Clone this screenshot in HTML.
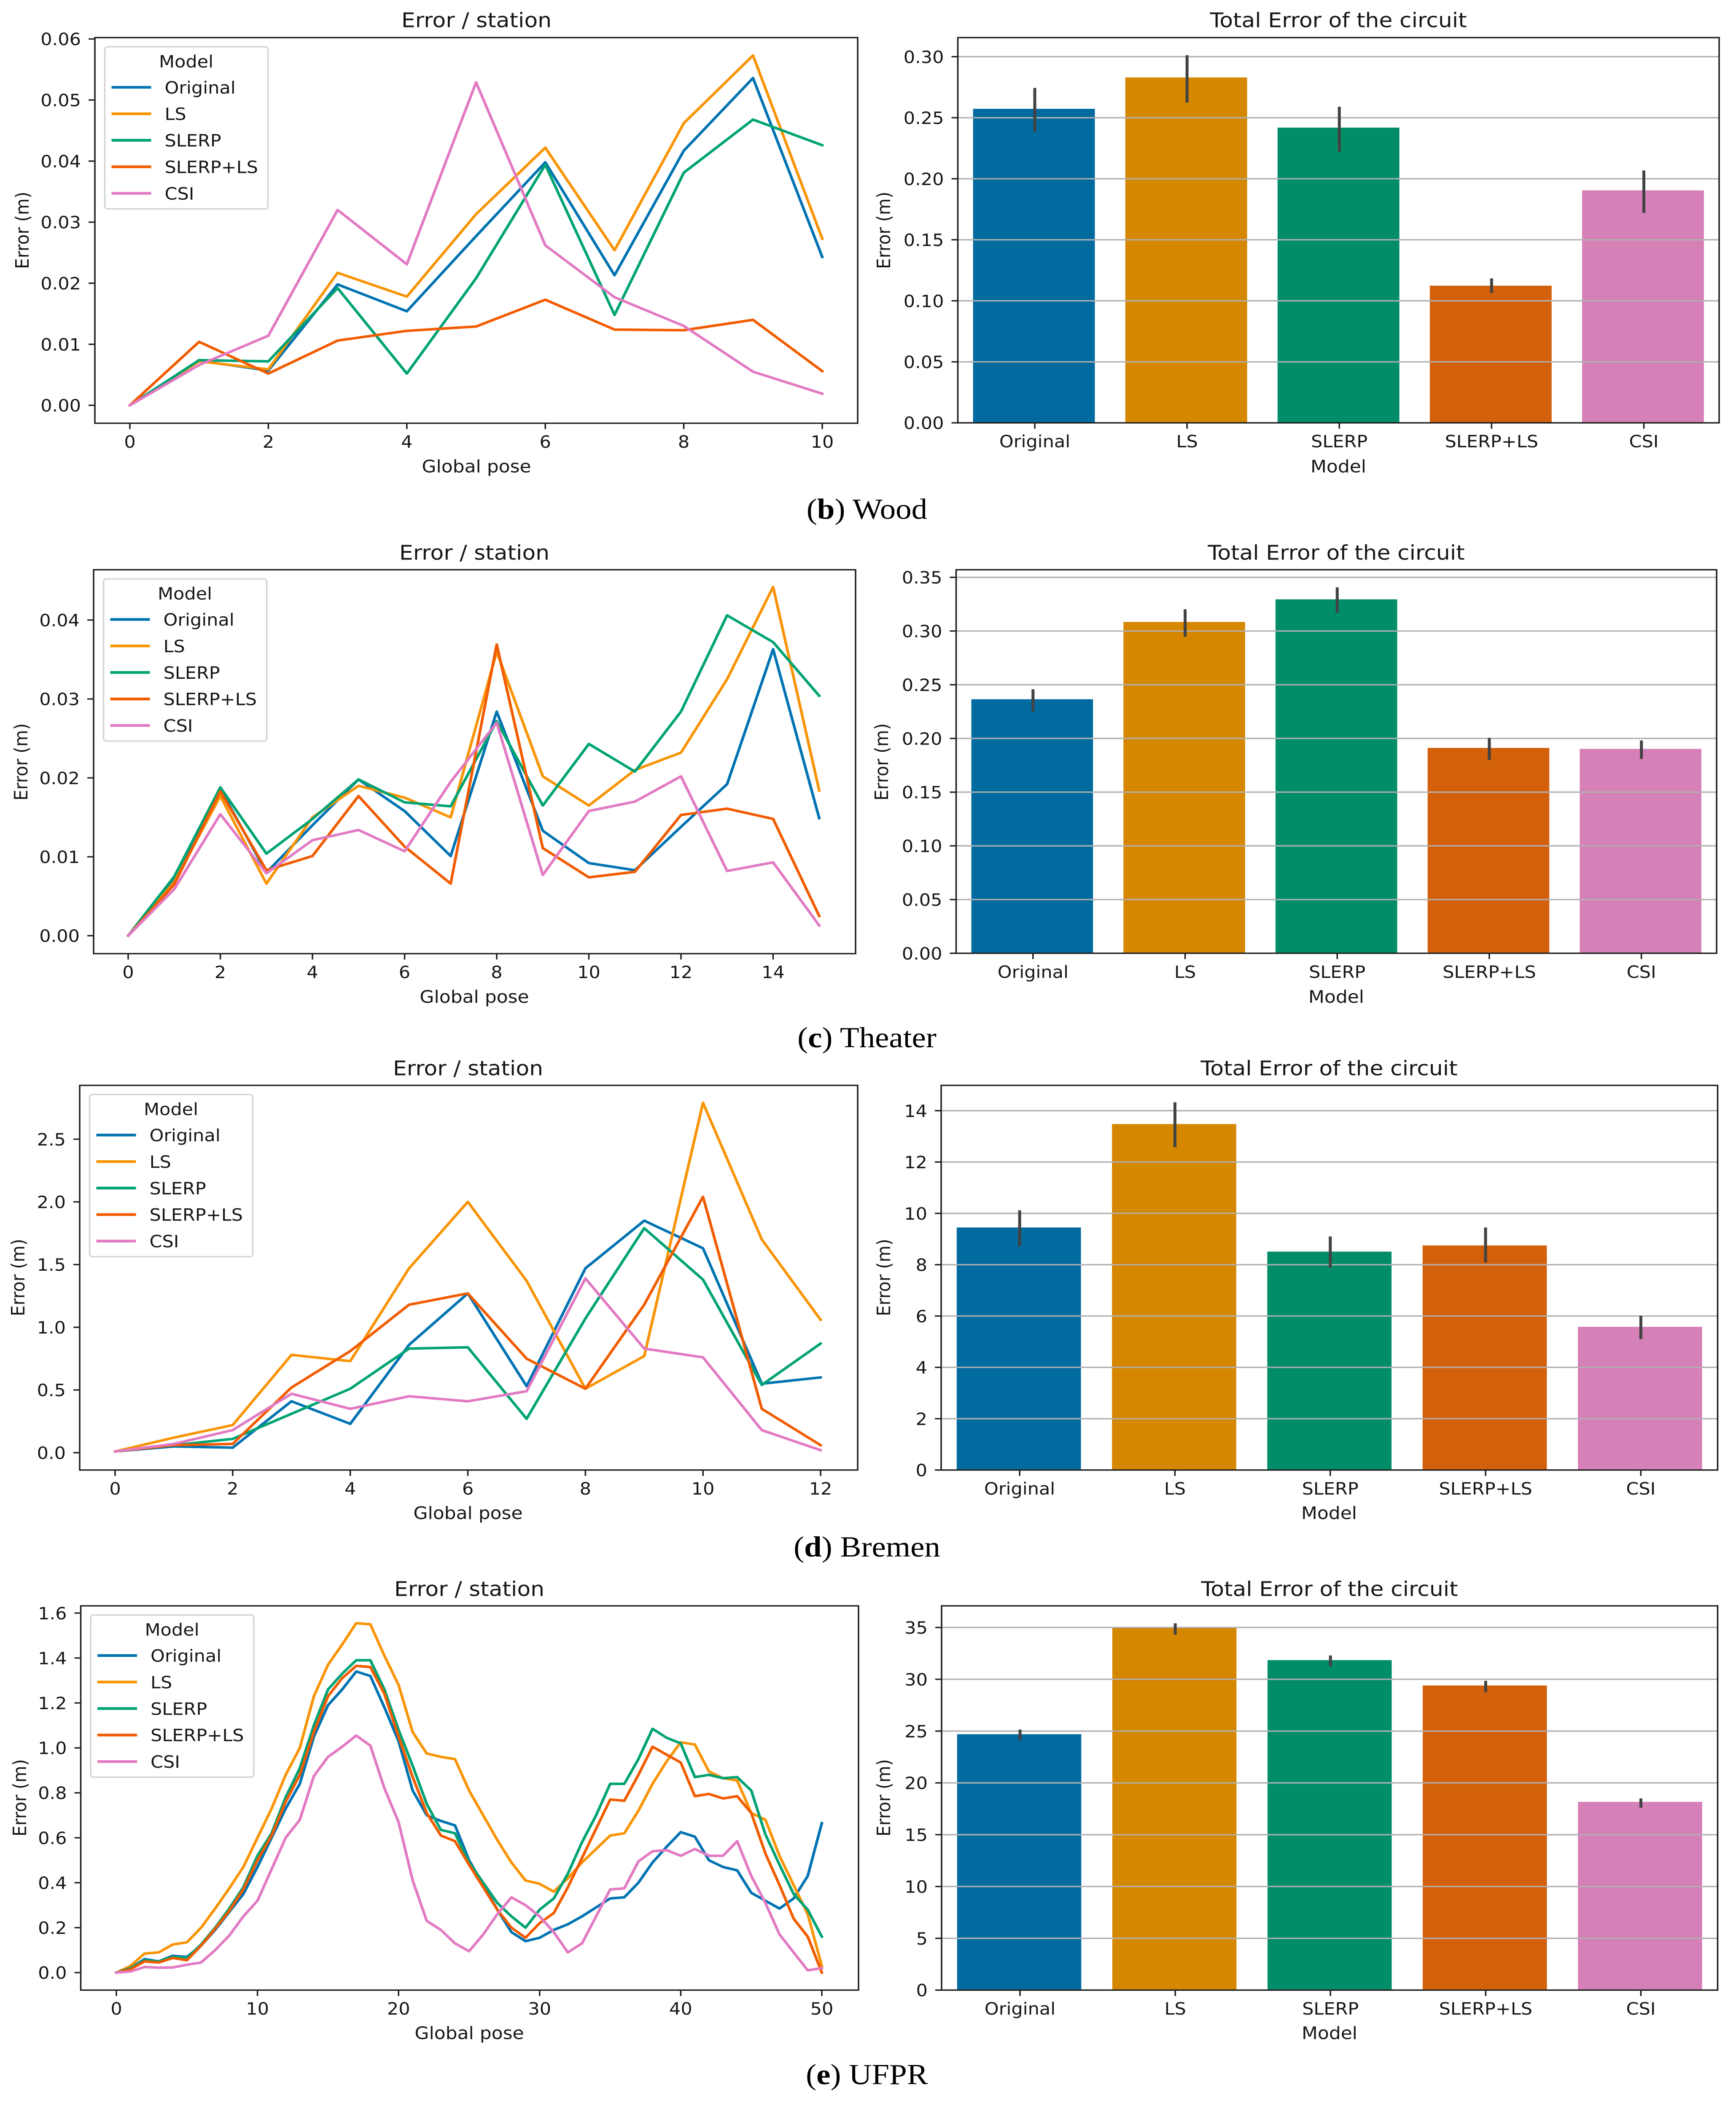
<!DOCTYPE html>
<html lang="en">
<head>
<meta charset="utf-8">
<title>Error per station and total circuit error</title>
<style>
html,body{margin:0;padding:0;background:#fff;width:100%;height:100%;overflow:hidden;}
svg{display:block;width:100vw;height:100vh;}
text{font-family:"DejaVu Sans","Liberation Sans",sans-serif;fill:#161616;}
.title{font-size:52px;text-anchor:middle;}
.axis-label{font-size:44px;text-anchor:middle;}
.caption{font-family:"Liberation Serif",serif;font-size:75px;text-anchor:middle;fill:#000;}
.caption tspan{font-weight:bold;}
</style>
</head>
<body>
<svg id="figure" xmlns="http://www.w3.org/2000/svg" viewBox="0 0 4117 5409" preserveAspectRatio="none">
  <rect width="4117" height="5409" fill="#fff"/>
  <g id="panels"></g>

  <text class="title" x="1130" y="70">Error / station</text>
  <text class="title" x="3174" y="70">Total Error of the circuit</text>
  <text class="axis-label" x="1130" y="1212">Global pose</text>
  <text class="axis-label" x="3174" y="1212">Model</text>
  <text class="axis-label" transform="translate(68,591) rotate(-90)">Error (m)</text>
  <text class="axis-label" transform="translate(2111,591) rotate(-90)">Error (m)</text>
  <text class="caption" x="2056" y="1331">(<tspan>b</tspan>) Wood</text>

  <text class="title" x="1125" y="1436">Error / station</text>
  <text class="title" x="3169" y="1436">Total Error of the circuit</text>
  <text class="axis-label" x="1125" y="2573">Global pose</text>
  <text class="axis-label" x="3169" y="2573">Model</text>
  <text class="axis-label" transform="translate(65,1955) rotate(-90)">Error (m)</text>
  <text class="axis-label" transform="translate(2106,1955) rotate(-90)">Error (m)</text>
  <text class="caption" x="2056" y="2687">(<tspan>c</tspan>) Theater</text>

  <text class="title" x="1110" y="2759">Error / station</text>
  <text class="title" x="3152" y="2759">Total Error of the circuit</text>
  <text class="axis-label" x="1110" y="3898">Global pose</text>
  <text class="axis-label" x="3152" y="3898">Model</text>
  <text class="axis-label" transform="translate(58,3278) rotate(-90)">Error (m)</text>
  <text class="axis-label" transform="translate(2111,3278) rotate(-90)">Error (m)</text>
  <text class="caption" x="2056" y="3994">(<tspan>d</tspan>) Bremen</text>

  <text class="title" x="1113" y="4095">Error / station</text>
  <text class="title" x="3153" y="4095">Total Error of the circuit</text>
  <text class="axis-label" x="1113" y="5232">Global pose</text>
  <text class="axis-label" x="3153" y="5232">Model</text>
  <text class="axis-label" transform="translate(62,4613) rotate(-90)">Error (m)</text>
  <text class="axis-label" transform="translate(2111,4613) rotate(-90)">Error (m)</text>
  <text class="caption" x="2056" y="5348">(<tspan>e</tspan>) UFPR</text>
</svg>
<script>
// ---- shared categories ----
const models = ["Original", "LS", "SLERP", "SLERP+LS", "CSI"];

// ---- Wood ----
const woodOriginal = [0, .0073, .0057, .0198, .0154, .0277, .0398, .0213, .0417, .0536, .0243];
const woodLS = [0, .0072, .0059, .0217, .0178, .0313, .0422, .0254, .0462, .0573, .0273];
const woodSlerp = [0, .0074, .0072, .0192, .0052, .0208, .0394, .0148, .0381, .0468, .0426];
const woodSlerpLS = [0, .0104, .0052, .0106, .0122, .0129, .0173, .0124, .0123, .0140, .0056];
const woodCSI = [0, .0066, .0114, .0320, .0231, .0529, .0262, .0177, .0130, .0055, .0019];
const woodXTicks = [0, 2, 4, 6, 8, 10];
const woodYTicks = ["0.00", "0.01", "0.02", "0.03", "0.04", "0.05", "0.06"];
const woodTotals = [.2573, .283, .2419, .1124, .1905];
const woodErrLow = [.2387, .2624, .2222, .1064, .172];
const woodErrHigh = [.2744, .3012, .259, .1184, .2068];
const woodBarTicks = ["0.00", "0.05", "0.10", "0.15", "0.20", "0.25", "0.30"];

// ---- Theater ----
const theaterOriginal = [0, .0072, .0186, .0080, .0140, .0198, .0158, .0101, .0284, .0133, .0092, .0083, .0138, .0192, .0363, .0149];
const theaterLS = [0, .0068, .0177, .0066, .0150, .0190, .0175, .0150, .0360, .0202, .0165, .0210, .0232, .0325, .0442, .0184];
const theaterSlerp = [0, .0075, .0188, .0104, .0148, .0198, .0169, .0164, .0272, .0165, .0243, .0208, .0284, .0406, .0372, .0304];
const theaterSlerpLS = [0, .0065, .0183, .0083, .0101, .0177, .0113, .0066, .0369, .0111, .0074, .0081, .0153, .0161, .0148, .0025];
const theaterCSI = [0, .0059, .0154, .0079, .0121, .0134, .0107, .0195, .0270, .0077, .0158, .0170, .0202, .0082, .0093, .0013];
const theaterXTicks = [0, 2, 4, 6, 8, 10, 12, 14];
const theaterYTicks = ["0.00", "0.01", "0.02", "0.03", "0.04"];
const theaterTotals = [.2365, .3085, .3295, .1912, .1903];
const theaterErrLow = [.225, .2948, .3171, .1801, .181];
const theaterErrHigh = [.2458, .3202, .3407, .2006, .1981];
const theaterBarTicks = ["0.00", "0.05", "0.10", "0.15", "0.20", "0.25", "0.30", "0.35"];

// ---- Bremen ----
const bremenOriginal = [.01, .05, .04, .41, .23, .86, 1.27, .53, 1.47, 1.85, 1.63, .55, .60];
const bremenLS = [.01, .12, .22, .78, .73, 1.47, 2.0, 1.37, .51, .77, 2.79, 1.70, 1.06];
const bremenSlerp = [.01, .06, .11, .31, .51, .83, .84, .27, 1.07, 1.79, 1.38, .54, .87];
const bremenSlerpLS = [.01, .06, .07, .52, .81, 1.18, 1.27, .75, .51, 1.18, 2.04, .35, .06];
const bremenCSI = [.01, .07, .18, .47, .35, .45, .41, .49, 1.39, .83, .76, .18, .02];
const bremenXTicks = [0, 2, 4, 6, 8, 10, 12];
const bremenYTicks = ["0.0", "0.5", "1.0", "1.5", "2.0", "2.5"];
const bremenTotals = [9.45, 13.48, 8.51, 8.75, 5.58];
const bremenErrLow = [8.71, 12.58, 7.88, 8.09, 5.1];
const bremenErrHigh = [10.12, 14.33, 9.1, 9.45, 6.01];
const bremenBarTicks = ["0", "2", "4", "6", "8", "10", "12", "14"];

// ---- UFPR ----
const ufprOriginal = [0, .02, .06, .05, .075, .07, .12, .19, .27, .35, .47, .60, .73, .84, 1.05, 1.19, 1.26, 1.34, 1.32, 1.18, 1.03, .81, .70, .675, .655, .50, .39, .28, .18, .14, .155, .19, .215, .25, .29, .33, .335, .40, .49, .56, .625, .605, .50, .47, .455, .355, .32, .285, .33, .43, .665];
const ufprLS = [0, .03, .085, .09, .125, .135, .20, .285, .375, .47, .60, .73, .88, 1.0, 1.23, 1.37, 1.46, 1.555, 1.55, 1.41, 1.28, 1.07, .975, .96, .95, .81, .70, .59, .49, .41, .395, .36, .42, .49, .55, .61, .62, .72, .84, .94, 1.025, 1.015, .895, .865, .855, .71, .68, .52, .39, .26, .03];
const ufprSlerp = [0, .02, .055, .05, .07, .065, .125, .20, .285, .38, .52, .62, .78, .91, 1.10, 1.26, 1.33, 1.39, 1.39, 1.26, 1.08, .92, .75, .635, .62, .49, .40, .31, .25, .20, .28, .33, .44, .58, .70, .84, .84, .95, 1.085, 1.045, 1.02, .87, .88, .865, .87, .81, .615, .48, .35, .28, .16];
const ufprSlerpLS = [0, .015, .05, .045, .065, .055, .12, .195, .275, .37, .50, .61, .76, .88, 1.07, 1.23, 1.31, 1.365, 1.36, 1.24, 1.05, .87, .71, .61, .585, .48, .38, .28, .20, .155, .22, .265, .38, .51, .64, .77, .765, .88, 1.005, .97, .935, .785, .795, .775, .785, .71, .53, .39, .24, .16, 0];
const ufprCSI = [0, .005, .025, .022, .023, .035, .045, .10, .165, .25, .32, .46, .60, .68, .875, .96, 1.005, 1.055, 1.01, .82, .67, .41, .23, .19, .13, .095, .17, .26, .335, .30, .25, .18, .09, .13, .25, .37, .375, .495, .54, .545, .52, .55, .52, .52, .585, .43, .31, .17, .09, .01, .02];
const ufprXTicks = [0, 10, 20, 30, 40, 50];
const ufprYTicks = ["0.0", "0.2", "0.4", "0.6", "0.8", "1.0", "1.2", "1.4", "1.6"];
const ufprTotals = [24.7, 34.97, 31.85, 29.4, 18.17];
const ufprErrLow = [24.1, 34.3, 31.25, 28.75, 17.6];
const ufprErrHigh = [25.15, 35.4, 32.3, 29.85, 18.5];
const ufprBarTicks = ["0", "5", "10", "15", "20", "25", "30", "35"];

// ---- styling / layout (not data) ----
const lineColors = ["#0073b2", "#f99406", "#00a374", "#f25c00", "#e27ac3"];
const barColors = ["#016ba0", "#d58700", "#018d68", "#d3600a", "#d680b8"];
const NS = "http://www.w3.org/2000/svg";
const root = document.getElementById("panels");

function make(parent, tag, attrs, content) {
  const el = document.createElementNS(NS, tag);
  for (const k in attrs) el.setAttribute(k, attrs[k]);
  if (content !== undefined) el.textContent = content;
  parent.appendChild(el);
  return el;
}

function linearScale(v0, v1, p0, p1) {
  return function (v) { return p0 + (v - v0) * (p1 - p0) / (v1 - v0); };
}

function drawFrame(group, box, prefix) {
  const frame = make(group, "rect", {x: box.left, y: box.top, width: box.right - box.left, height: box.bottom - box.top, fill: "none", stroke: "#1c1c1c", "stroke-width": 3.5});
  
  
}

function drawYTicks(group, box, labels, y, prefix) {
  labels.forEach(function (label) {
    const py = y(parseFloat(label));
    const tick = make(group, "line", {x1: box.left - 15, x2: box.left, y1: py, y2: py, stroke: "#1c1c1c", "stroke-width": 3.5});
    
    
    const text = make(group, "text", {x: box.left - 33, y: py + 16, "text-anchor": "end", "font-size": 43}, label);
    
    
  });
}

function drawXTick(group, box, px, label, prefix) {
  const tick = make(group, "line", {x1: px, x2: px, y1: box.bottom, y2: box.bottom + 15, stroke: "#1c1c1c", "stroke-width": 3.5});
  
  
  const text = make(group, "text", {x: px, y: box.bottom + 63, "text-anchor": "middle", "font-size": 43}, label);
  
  
}

function drawLegend(group, box, prefix) {
  const lx = box.left + 23.5, ly = box.top + 23.5;
  const legend = make(group, "g", {});
  
  
  const bg = make(legend, "rect", {x: lx, y: ly, width: 387, height: 416, rx: 7, fill: "#fff", "fill-opacity": 0.8, stroke: "#d4d4d4", "stroke-width": 3.5});
  
  
  const title = make(legend, "text", {x: lx + 193, y: ly + 53, "text-anchor": "middle", "font-size": 43}, "Model");
  
  
  models.forEach(function (model, i) {
    const row = ly + 104 + i * 68;
    const swatch = make(legend, "line", {x1: lx + 16, x2: lx + 110, y1: row, y2: row, stroke: lineColors[i], "stroke-width": 7});
    
    
    const label = make(legend, "text", {x: lx + 142, y: row + 16, "font-size": 43}, model);
    
    
  });
}

function drawLinePanel(p) {
  const group = make(root, "g", {});
  
  
  const x = linearScale(p.xv[0], p.xv[1], p.xp[0], p.xp[1]);
  const y = linearScale(p.yv[0], p.yv[1], p.yp[0], p.yp[1]);
  p.series.forEach(function (values, s) {
    const pts = values.map(function (v, i) { return x(i).toFixed(1) + "," + y(v).toFixed(1); }).join(" ");
    const line = make(group, "polyline", {points: pts, fill: "none", stroke: lineColors[s], "stroke-width": 6.5, "stroke-linejoin": "round", "stroke-linecap": "square"});
    
    
  });
  drawFrame(group, p.box, p.prefix + "-line");
  drawYTicks(group, p.box, p.yTicks, y, p.prefix + "-line");
  p.xTicks.forEach(function (t) { drawXTick(group, p.box, x(t), String(t), p.prefix + "-line"); });
  drawLegend(group, p.box, p.prefix);
}

function drawBarPanel(p) {
  const group = make(root, "g", {});
  
  
  const y = linearScale(p.yv[0], p.yv[1], p.yp[0], p.yp[1]);
  const band = (p.box.right - p.box.left) / models.length;
  const center = function (i) { return p.box.left + band * (i + 0.5); };
  p.totals.forEach(function (v, i) {
    const bar = make(group, "rect", {x: center(i) - band * 0.4, y: y(v), width: band * 0.8, height: y(0) - y(v), fill: barColors[i]});
    
    
  });
  p.yTicks.forEach(function (label) {
    const py = y(parseFloat(label));
    const grid = make(group, "line", {x1: p.box.left, x2: p.box.right, y1: py, y2: py, stroke: "#b0b0b0", "stroke-width": 3.5});
    
    
  });
  models.forEach(function (m, i) {
    const err = make(group, "line", {x1: center(i) + 2, x2: center(i) + 2, y1: y(p.errLow[i]), y2: y(p.errHigh[i]), stroke: "#424242", "stroke-width": 7});
    
    
  });
  drawFrame(group, p.box, p.prefix + "-bar");
  drawYTicks(group, p.box, p.yTicks, y, p.prefix + "-bar");
  models.forEach(function (m, i) { drawXTick(group, p.box, center(i) + 2, m, p.prefix + "-bar"); });
}

drawLinePanel({prefix: "wood", box: {left: 225, right: 2034, top: 96.5, bottom: 1086},
  xv: [0, 10], xp: [308, 1950], yv: [0, .06], yp: [1040, 100], xTicks: woodXTicks, yTicks: woodYTicks,
  series: [woodOriginal, woodLS, woodSlerp, woodSlerpLS, woodCSI]});
drawBarPanel({prefix: "wood", box: {left: 2271.5, right: 4077, top: 96.5, bottom: 1085},
  yv: [0, .30], yp: [1085, 145.5], yTicks: woodBarTicks, totals: woodTotals, errLow: woodErrLow, errHigh: woodErrHigh});

drawLinePanel({prefix: "theater", box: {left: 222, right: 2029, top: 1462, bottom: 2447},
  xv: [0, 14], xp: [304, 1833.5], yv: [0, .04], yp: [2401, 1591], xTicks: theaterXTicks, yTicks: theaterYTicks,
  series: [theaterOriginal, theaterLS, theaterSlerp, theaterSlerpLS, theaterCSI]});
drawBarPanel({prefix: "theater", box: {left: 2267.5, right: 4071, top: 1462, bottom: 2446},
  yv: [0, .35], yp: [2446, 1481.4], yTicks: theaterBarTicks, totals: theaterTotals, errLow: theaterErrLow, errHigh: theaterErrHigh});

drawLinePanel({prefix: "bremen", box: {left: 189, right: 2034, top: 2785, bottom: 3772},
  xv: [0, 12], xp: [273, 1946], yv: [0, 2.5], yp: [3727.5, 2923], xTicks: bremenXTicks, yTicks: bremenYTicks,
  series: [bremenOriginal, bremenLS, bremenSlerp, bremenSlerpLS, bremenCSI]});
drawBarPanel({prefix: "bremen", box: {left: 2232, right: 4073.5, top: 2785, bottom: 3772},
  yv: [0, 14], yp: [3772, 2850], yTicks: bremenBarTicks, totals: bremenTotals, errLow: bremenErrLow, errHigh: bremenErrHigh});

drawLinePanel({prefix: "ufpr", box: {left: 191.5, right: 2036, top: 4120.5, bottom: 5106.5},
  xv: [0, 50], xp: [276, 1949], yv: [0, 1.6], yp: [5061.6, 4139], xTicks: ufprXTicks, yTicks: ufprYTicks,
  series: [ufprOriginal, ufprLS, ufprSlerp, ufprSlerpLS, ufprCSI]});
drawBarPanel({prefix: "ufpr", box: {left: 2233, right: 4073.5, top: 4120.5, bottom: 5106.5},
  yv: [0, 35], yp: [5106.5, 4176], yTicks: ufprBarTicks, totals: ufprTotals, errLow: ufprErrLow, errHigh: ufprErrHigh});
</script>
</body>
</html>
